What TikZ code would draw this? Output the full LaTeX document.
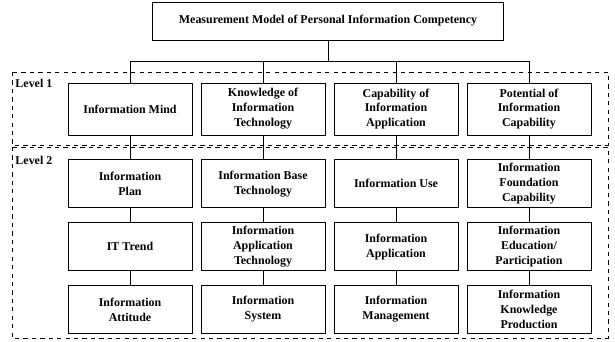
\documentclass[tikz,border=0pt]{standalone}
\usepackage{fontspec}
\setmainfont{Liberation Serif}
\usepackage{tikz}
\usetikzlibrary{positioning}

\begin{document}
\begin{tikzpicture}[
  font=\fontsize{8.5}{10.6}\selectfont\bfseries,
  node distance=0.35cm,
  model/.style={draw, line width=0.6pt, minimum width=8.775cm, minimum height=0.95cm, align=center},
  factor/.style={draw, line width=0.6pt, inner ysep=1pt, minimum width=3.1cm, minimum height=1.3cm, align=center},
  item/.style={draw, line width=0.6pt, inner ysep=1pt, minimum width=3.1cm, minimum height=1.2cm, align=center},
  level/.style={draw, dashed, line width=0.5pt},
  link/.style={line width=0.6pt}
]
\useasboundingbox (0,0) rectangle (15.375,-8.55);

% level frames
\draw[level] (0.3,-1.8) rectangle (15.2,-3.625);
\draw[level] (0.3,-3.675) rectangle (15.2,-8.45);
\node[anchor=west, inner sep=0pt] (lev1) at (0.38,-2.08) {Level 1};
\node[anchor=west, inner sep=0pt] (lev2) at (0.38,-4.0) {Level 2};

\node[model] (model) at (8.2,-0.525) {Measurement Model of Personal Information Competency};

% level 1
\node[factor] (mind) at (3.25,-2.725) {Information Mind};
\node[factor] (know) at (6.575,-2.725) {Knowledge of\\Information\\Technology};
\node[factor] (capa) at (9.9,-2.725) {Capability of\\Information\\Application};
\node[factor] (pote) at (13.225,-2.725) {Potential of\\Information\\Capability};

% level 2
\node[item, below=0.6cm of mind] (plan) {Information\\Plan};
\node[item, below=of plan] (trend) {IT Trend};
\node[item, below=of trend] (attitude) {Information\\Attitude};

\node[item, below=0.6cm of know] (basetech) {Information Base\\Technology};
\node[item, below=of basetech] (apptech) {Information\\Application\\Technology};
\node[item, below=of apptech] (system) {Information\\System};

\node[item, below=0.6cm of capa] (use) {Information Use};
\node[item, below=of use] (application) {Information\\Application};
\node[item, below=of application] (management) {Information\\Management};

\node[item, below=0.6cm of pote] (foundation) {Information\\Foundation\\Capability};
\node[item, below=of foundation] (education) {Information\\Education/\\Participation};
\node[item, below=of education] (production) {Information\\Knowledge\\Production};

\draw[link] (model.south) -- ++(0,-0.525) -| (mind.north);
\draw[link] (model.south) -- ++(0,-0.525) -| (know.north);
\draw[link] (model.south) -- ++(0,-0.525) -| (capa.north);
\draw[link] (model.south) -- ++(0,-0.525) -| (pote.north);

\draw[link] (mind) -- (plan);
\draw[link] (plan) -- (trend);
\draw[link] (trend) -- (attitude);
\draw[link] (know) -- (basetech);
\draw[link] (basetech) -- (apptech);
\draw[link] (apptech) -- (system);
\draw[link] (capa) -- (use);
\draw[link] (use) -- (application);
\draw[link] (application) -- (management);
\draw[link] (pote) -- (foundation);
\draw[link] (foundation) -- (education);
\draw[link] (education) -- (production);
\end{tikzpicture}
\end{document}
